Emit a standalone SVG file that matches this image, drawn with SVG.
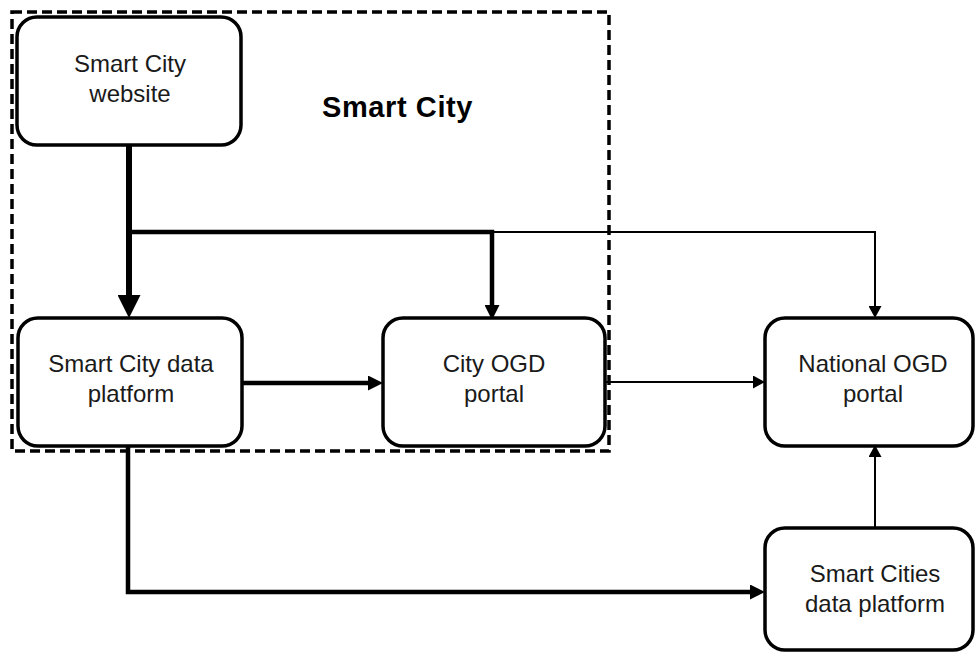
<svg xmlns="http://www.w3.org/2000/svg" width="976" height="653" viewBox="0 0 976 653">
  <style>
    .node { fill: #ffffff; stroke: #000000; stroke-width: 3.5; }
    .label { font-family: "Liberation Sans", Arial, sans-serif; font-size: 24px; fill: #1a1a1a; text-anchor: middle; }
    .title { font-family: "Liberation Sans", Arial, sans-serif; font-size: 29px; font-weight: bold; fill: #000000; letter-spacing: 0.6px; }
    .frame { fill: none; stroke: #000000; stroke-width: 3.5; stroke-dasharray: 10 5; }
    .thick { fill: none; stroke: #000000; stroke-width: 4.5; }
    .heavy { fill: none; stroke: #000000; stroke-width: 6; }
    .thin { fill: none; stroke: #000000; stroke-width: 2; }
  </style>
  <defs>
    <marker id="arrowBig" markerUnits="userSpaceOnUse" markerWidth="23" markerHeight="23" viewBox="0 0 23 23" refX="0" refY="11.5" orient="auto">
      <path d="M0,0 L23,11.5 L0,23 z" fill="#000"/>
    </marker>
    <marker id="arrowMid" markerUnits="userSpaceOnUse" markerWidth="15" markerHeight="15" viewBox="0 0 15 15" refX="0" refY="7.5" orient="auto">
      <path d="M0,0 L15,7.5 L0,15 z" fill="#000"/>
    </marker>
    <marker id="arrowSmall" markerUnits="userSpaceOnUse" markerWidth="12" markerHeight="13" viewBox="0 0 12 13" refX="0" refY="6.5" orient="auto">
      <path d="M0,0 L12,6.5 L0,13 z" fill="#000"/>
    </marker>
  </defs>

  <!-- Smart City boundary -->
  <g id="smart-city-frame">
    <rect class="frame" x="12" y="12" width="597" height="439"/>
    <text class="title" x="322" y="117">Smart City</text>
  </g>

  <g id="connectors">
    <path class="heavy" d="M129,145 V295" marker-end="url(#arrowBig)"/>
    <path class="thick" d="M129,232 H492 V305" marker-end="url(#arrowMid)"/>
    <path class="thin" d="M492,232 H875 V306" marker-end="url(#arrowSmall)"/>
    <path class="thick" d="M242,383 H368" marker-end="url(#arrowMid)"/>
    <path class="thin" d="M605,382 H753" marker-end="url(#arrowSmall)"/>
    <path class="thick" d="M128,446 V592 H750" marker-end="url(#arrowMid)"/>
    <path class="thin" d="M875,528 V457" marker-end="url(#arrowSmall)"/>
  </g>

  <g id="smart-city-website">
    <rect class="node" x="17" y="17" width="224" height="128" rx="20"/>
    <text class="label" x="130" y="72">Smart City</text>
    <text class="label" x="130" y="102">website</text>
  </g>

  <g id="smart-city-data-platform">
    <rect class="node" x="18" y="318" width="224" height="128" rx="20"/>
    <text class="label" x="131" y="372">Smart City data</text>
    <text class="label" x="131" y="402">platform</text>
  </g>

  <g id="city-ogd-portal">
    <rect class="node" x="383" y="318" width="222" height="128" rx="20"/>
    <text class="label" x="494" y="372">City OGD</text>
    <text class="label" x="494" y="402">portal</text>
  </g>

  <g id="national-ogd-portal">
    <rect class="node" x="765" y="318" width="208" height="128" rx="20"/>
    <text class="label" x="873" y="372">National OGD</text>
    <text class="label" x="873" y="402">portal</text>
  </g>

  <g id="smart-cities-data-platform">
    <rect class="node" x="765" y="528" width="208" height="122" rx="20"/>
    <text class="label" x="875" y="582">Smart Cities</text>
    <text class="label" x="875" y="612">data platform</text>
  </g>
</svg>
